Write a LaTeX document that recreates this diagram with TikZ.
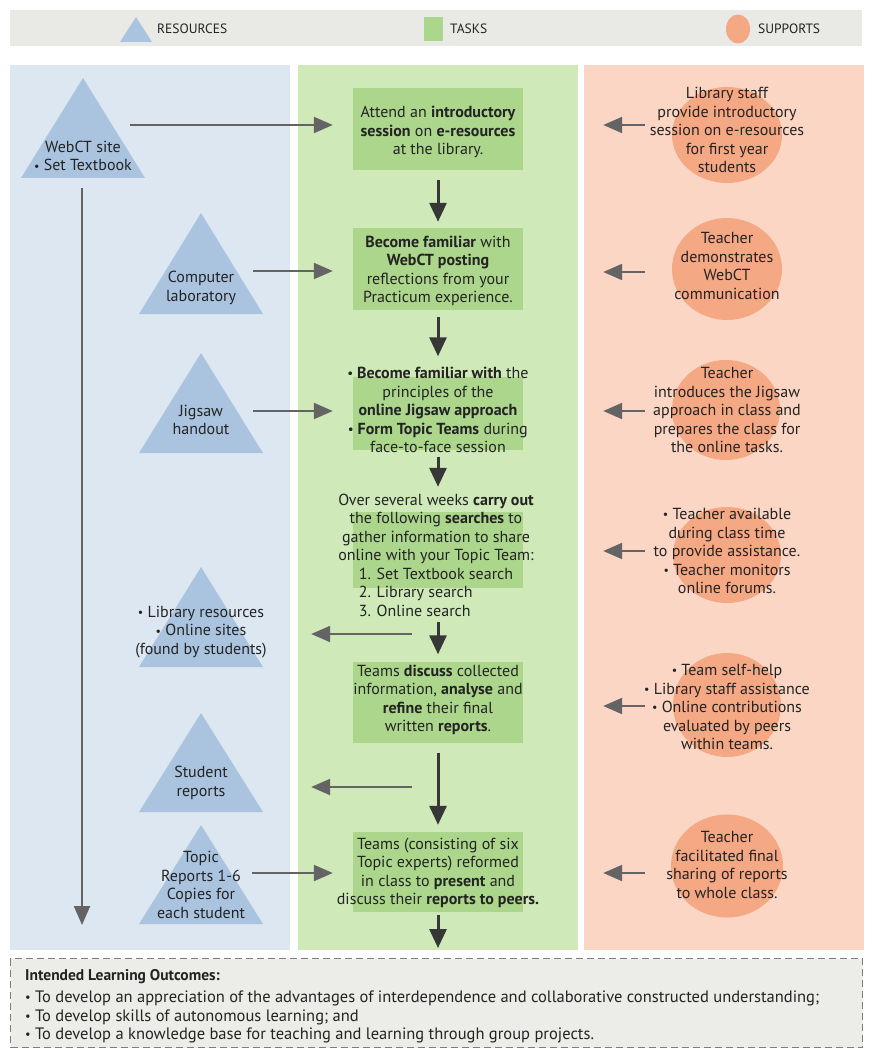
\documentclass[tikz,border=0pt]{standalone}
\usepackage{fontspec}
\setmainfont{PT Sans}
\usetikzlibrary{arrows.meta,shapes.geometric}

\definecolor{resbg}{RGB}{221,231,242}
\definecolor{resfill}{RGB}{170,196,224}
\definecolor{taskbg}{RGB}{207,233,185}
\definecolor{taskfill}{RGB}{172,214,140}
\definecolor{supbg}{RGB}{251,214,196}
\definecolor{supfill}{RGB}{245,168,132}
\definecolor{legendbg}{RGB}{233,233,229}
\definecolor{outbg}{RGB}{236,236,233}
\definecolor{dashgrey}{RGB}{125,125,125}
\definecolor{arrowgrey}{RGB}{100,100,100}
\definecolor{arrowdark}{RGB}{55,55,55}
\definecolor{inkdark}{RGB}{35,35,35}

\newcommand{\smalldot}{\raisebox{0.8pt}{\scalebox{0.75}{•}}}

\begin{document}
\begin{tikzpicture}[x=1pt,y=-1pt,
  bodytext/.style={align=center,text=inkdark,inner sep=0pt,font=\fontsize{16}{18.5}\selectfont},
  legendtext/.style={text=inkdark,inner sep=0pt,anchor=west,font=\fontsize{13.5}{15}\selectfont},
  outtext/.style={text=inkdark,inner sep=0pt,anchor=west,text height=11pt,text depth=3pt,font=\fontsize{16.5}{18}\selectfont},
  column/.style={minimum width=280pt,minimum height=885pt,inner sep=0pt},
  taskbox/.style={fill=taskfill,minimum width=170pt,inner sep=0pt},
  supdot/.style={ellipse,fill=supfill,inner sep=0pt},
  sidearrow/.style={draw=arrowgrey,line width=2.2pt,-{Triangle[length=19pt,width=16pt]}},
  downarrow/.style={draw=arrowdark,line width=3pt,-{Triangle[length=19pt,width=17pt]}}]
\fill[white] (0,0) rectangle (883,1051);
\useasboundingbox (0,0) rectangle (883,1051);

% legend
\fill[legendbg] (10,10) rectangle (862,46);
\fill[resfill] (136,17) -- (152,42) -- (120,42) -- cycle;
\node[legendtext] (legres) at (157,29) {RESOURCES};
\node[fill=taskfill,minimum width=19pt,minimum height=24pt,inner sep=0pt] (legtaskbox) at (433,29) {};
\node[legendtext] (legtask) at (450,29) {TASKS};
\node[supdot,minimum width=24pt,minimum height=29pt] (legsupdot) at (738,29) {};
\node[legendtext] (legsup) at (758,29) {SUPPORTS};

% columns
\node[column,fill=resbg] (rescol) at (150,507.5) {};
\node[column,fill=taskbg] (taskcol) at (438,507.5) {};
\node[column,fill=supbg] (supcol) at (724,507.5) {};

% resources
\fill[resfill] (83,78) -- (145,178) -- (21,178) -- cycle;
\fill[resfill] (201,213) -- (263,314) -- (139,314) -- cycle;
\fill[resfill] (201,353) -- (263,453) -- (139,453) -- cycle;
\fill[resfill] (201,567) -- (263,667) -- (139,667) -- cycle;
\fill[resfill] (201,713) -- (263,812) -- (139,812) -- cycle;
\fill[resfill] (201,825) -- (263,924) -- (139,924) -- cycle;
\node[bodytext] (webct) at (83,156) {WebCT site\\\smalldot\ Set Textbook};
\node[bodytext] (complab) at (201,288) {Computer\\laboratory};
\node[bodytext] (jigsaw) at (201,420) {Jigsaw\\handout};
\node[bodytext] (libres) at (201,632) {\smalldot\ Library resources\\\smalldot\ Online sites\\(found by students)};
\node[bodytext] (studrep) at (201,783) {Student\\reports};
\node[bodytext] (topicrep) at (201,885) {Topic\\Reports 1-6\\Copies for\\each student};

% tasks
\node[taskbox,minimum height=82pt] (t1bg) at (438,129) {};
\node[taskbox,minimum height=82pt] (t2bg) at (438,269) {};
\node[taskbox,minimum height=73pt] (t3bg) at (438,413) {};
\node[taskbox,minimum height=76pt] (t4bg) at (438,550) {};
\node[taskbox,minimum height=81pt] (t5bg) at (438,702) {};
\node[taskbox,minimum height=80pt] (t6bg) at (438,872) {};
\node[bodytext] (intro) at (438,132) {Attend an \textbf{introductory}\\\textbf{session} on \textbf{e-resources}\\at the library.};
\node[bodytext] (posting) at (438,271) {\textbf{Become familiar} with\\\textbf{WebCT posting}\\reflections from your\\Practicum experience.};
\node[bodytext] (teams) at (438,410) {\textbf{\smalldot\ Become familiar with} the\\principles of the\\\textbf{online Jigsaw approach}\\\textbf{\smalldot\ Form Topic Teams} during\\face-to-face session};
\node[bodytext] (search) at (436,558) {Over several weeks \textbf{carry out}\\the following \textbf{searches} to\\gather information to share\\online with your Topic Team:\\\begin{tabular}[t]{@{}l@{}}1. Set Textbook search\\2. Library search\\3. Online search\end{tabular}};
\node[bodytext] (discuss) at (438,700) {Teams \textbf{discuss} collected\\information, \textbf{analyse} and\\\textbf{refine} their final\\written \textbf{reports}.};
\node[bodytext] (present) at (438,873) {Teams (consisting of six\\Topic experts) reformed\\in class to \textbf{present} and\\discuss their \textbf{reports to peers.}};

% supports
\node[supdot,minimum width=110pt,minimum height=96pt] (s1dot) at (727,135) {};
\node[supdot,minimum width=110pt,minimum height=102pt] (s2dot) at (727,269) {};
\node[supdot,minimum width=108pt,minimum height=100pt] (s3dot) at (726,410) {};
\node[supdot,minimum width=108pt,minimum height=96pt] (s4dot) at (727,555) {};
\node[supdot,minimum width=108pt,minimum height=104pt] (s5dot) at (727,705) {};
\node[supdot,minimum width=112pt,minimum height=103pt] (s6dot) at (727,866) {};
\node[bodytext] (libstaff) at (727,130) {Library staff\\provide introductory\\session on e-resources\\for first year\\students};
\node[bodytext] (demo) at (727,266) {Teacher\\demonstrates\\WebCT\\communication};
\node[bodytext] (introjig) at (727,410) {Teacher\\introduces the Jigsaw\\approach in class and\\prepares the class for\\the online tasks.};
\node[bodytext] (avail) at (727,551) {\smalldot\ Teacher available\\during class time\\to provide assistance.\\\smalldot\ Teacher monitors\\online forums.};
\node[bodytext] (selfhelp) at (727,707) {\smalldot\ Team self-help\\\smalldot\ Library staff assistance\\\smalldot\ Online contributions\\evaluated by peers\\within teams.};
\node[bodytext] (facil) at (727,865) {Teacher\\facilitated final\\sharing of reports\\to whole class.};

% arrow ends
\coordinate (restop) at (82,188);
\coordinate (resend) at (82,925);
\coordinate (r1a) at (130,125);
\coordinate (r2a) at (253,271);
\coordinate (r3a) at (253,411);
\coordinate (r6a) at (252,873);
\coordinate (r4a) at (412,634);
\coordinate (r5a) at (412,787);
\coordinate (s1a) at (645,125);
\coordinate (s2a) at (645,272);
\coordinate (s3a) at (645,411);
\coordinate (s4a) at (645,551);
\coordinate (s5a) at (645,706);
\coordinate (s6a) at (645,873);
\coordinate (taskend) at (438,948);

% flow down the tasks
\draw[downarrow,shorten <=10pt,shorten >=6pt] (t1bg) -- (t2bg);
\draw[downarrow,shorten <=7pt,shorten >=20pt] (t2bg) -- (t3bg);
\draw[downarrow,shorten <=7pt,shorten >=25pt] (t3bg) -- (t4bg);
\draw[downarrow,shorten <=34pt,shorten >=7pt] (t4bg) -- (t5bg);
\draw[downarrow,shorten <=10pt,shorten >=7pt] (t5bg) -- (t6bg);
\draw[downarrow,shorten <=3pt] (t6bg.south) -- (taskend);

% resources in and out
\draw[sidearrow] (restop) -- (resend);
\draw[sidearrow,shorten >=20pt] (r1a) -- (r1a -| t1bg.west);
\draw[sidearrow,shorten >=20pt] (r2a) -- (r2a -| t2bg.west);
\draw[sidearrow,shorten >=20pt] (r3a) -- (r3a -| t3bg.west);
\draw[sidearrow,shorten >=20pt] (r6a) -- (r6a -| t6bg.west);
\draw[sidearrow,shorten >=21pt] (r4a) -- (r4a -| rescol.east);
\draw[sidearrow,shorten >=21pt] (r5a) -- (r5a -| rescol.east);

% supports in
\draw[sidearrow,shorten >=25pt] (s1a) -- (s1a -| taskcol.east);
\draw[sidearrow,shorten >=25pt] (s2a) -- (s2a -| taskcol.east);
\draw[sidearrow,shorten >=25pt] (s3a) -- (s3a -| taskcol.east);
\draw[sidearrow,shorten >=25pt] (s4a) -- (s4a -| taskcol.east);
\draw[sidearrow,shorten >=25pt] (s5a) -- (s5a -| taskcol.east);
\draw[sidearrow,shorten >=25pt] (s6a) -- (s6a -| taskcol.east);

% outcomes
\node[draw=dashgrey,fill=outbg,line width=1.3pt,dash pattern=on 7pt off 4pt,minimum width=852pt,minimum height=89pt,inner sep=0pt,anchor=north west] (outcomes) at (10,958) {};
\node[outtext,font=\fontsize{15.5}{18}\selectfont] (ilohead) at (25,976) {\textbf{Intended Learning Outcomes:}};
\node[outtext] (ilo1) at (25,998) {\smalldot\ To develop an appreciation of the advantages of interdependence and collaborative constructed understanding;};
\node[outtext] (ilo2) at (25,1017) {\smalldot\ To develop skills of autonomous learning; and};
\node[outtext] (ilo3) at (25,1035) {\smalldot\ To develop a knowledge base for teaching and learning through group projects.};
\end{tikzpicture}
\end{document}
